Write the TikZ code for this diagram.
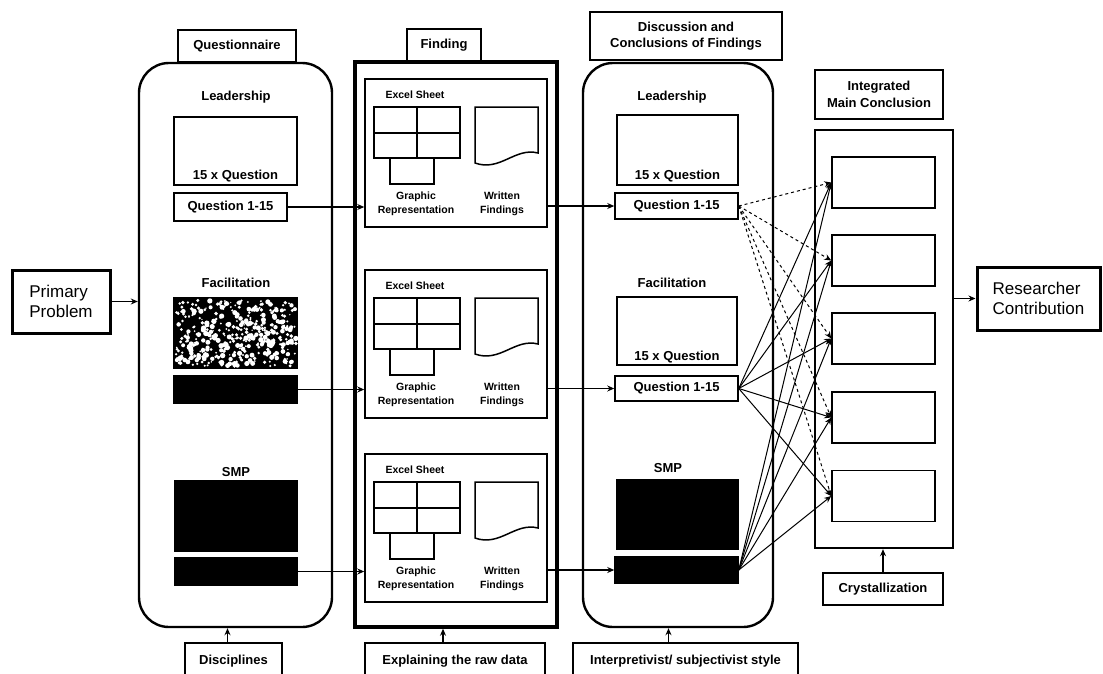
\documentclass[tikz,border=0pt]{standalone}
\usepackage{fontspec}
\setmainfont{Liberation Sans}
\usetikzlibrary{arrows.meta,positioning}

\begin{document}
\begin{tikzpicture}[x=1pt,y=-1pt,
  every node/.style={font=\bfseries\fontsize{13}{16.5}\selectfont},
  col/.style={draw,line width=2.4pt,rounded corners=30pt,inner sep=0pt},
  tag/.style={draw,line width=1.1pt,inner sep=0pt,align=center},
  qbox/.style={draw,line width=1.5pt,inner sep=0pt},
  blk/.style={draw,fill=black,line width=1.5pt,inner sep=0pt},
  head/.style={inner sep=0pt},
  endbox/.style={draw,line width=3pt,align=left,inner sep=0pt,
    font=\fontsize{17}{20}\selectfont},
  smalltxt/.style={font=\bfseries\fontsize{10.5}{14}\selectfont,align=center,inner sep=0pt},
  qlabel/.style={label={[anchor=south,inner sep=3pt]south:15 x Question}},
  link/.style={->,line width=1.1pt},
  >={Stealth[length=7pt,width=6pt]}]
\useasboundingbox (0,0) rectangle (1103,673);

% outer boxes
\node[endbox,minimum width=98pt,minimum height=63pt] (primary) at (61,301.5) {Primary\\Problem};
\node[endbox,minimum width=123pt,minimum height=63pt] (contrib) at (1038.5,298.5) {Researcher\\Contribution};

% the four columns
\node[col,minimum width=193pt,minimum height=564pt] (quest) at (235.5,345) {};
\node[draw,line width=3.5pt,minimum width=202pt,minimum height=565pt,inner sep=0pt] (find) at (456,344.5) {};
\node[col,minimum width=190pt,minimum height=564pt] (discuss) at (678,345) {};
\node[draw,line width=2.4pt,minimum width=138pt,minimum height=418pt,inner sep=0pt] (integ) at (884,339) {};

% titles on top
\node[tag,minimum width=118pt,minimum height=32pt] (tQuest) at (237,46) {Questionnaire};
\node[tag,minimum width=74pt,minimum height=32pt] (tFind) at (444,45) {Finding};
\node[tag,minimum width=192pt,minimum height=48pt] (tDisc) at (686,36) {Discussion and\\Conclusions of Findings};
\node[tag,minimum width=128pt,minimum height=49pt] (tInteg) at (879,94.5) {Integrated\\Main Conclusion};

% questionnaire
\node[head] (qLhead) at (236,97) {Leadership};
\node[qbox,qlabel,minimum width=123pt,minimum height=68pt] (qLbox) at (235.5,151) {};
\node[qbox,minimum width=113pt,minimum height=28pt] (qLq) at (230.5,207) {Question 1-15};
\node[head] (qFhead) at (236,283) {Facilitation};
\node[blk,minimum width=123pt,minimum height=70pt] (qFbox) at (235.5,333) {};
\begin{scope}
  \clip (qFbox.north west) rectangle (qFbox.south east);
  \pgfmathsetseed{7}
  \foreach \k in {1,...,420}
    \fill[white] ({176+120*rnd},{300+66*rnd}) circle ({0.7+2*rnd});
\end{scope}
\node[blk,minimum width=123pt,minimum height=27pt] (qFq) at (235.5,389.5) {};
\node[head] (qShead) at (236,472) {SMP};
\node[blk,minimum width=122pt,minimum height=70pt] (qSbox) at (236,516) {};
\node[blk,minimum width=122pt,minimum height=27pt] (qSq) at (236,571.5) {};

% finding: three excel sheets
\foreach \t/\n in {79/1,270/2,454/3}{
  \node[qbox,minimum width=182pt,minimum height=148pt] (sheet\n) at (456,\t+74) {};
  \node[smalltxt] (excel\n) at (415,\t+16) {Excel Sheet};
  \draw[line width=1.5pt] (374,\t+28) rectangle (460,\t+79)
    (417,\t+28) -- (417,\t+79) (374,\t+54) -- (460,\t+54)
    (390,\t+79) rectangle (434,\t+105);
  \draw[line width=1.5pt] (475,\t+28) -- (538,\t+28) -- (538,\t+74)
    .. controls (515,\t+68) and (500,\t+93) .. (475,\t+84) -- cycle;
  \node[smalltxt] (graph\n) at (416,\t+125) {Graphic\\Representation};
  \node[smalltxt] (written\n) at (502,\t+125) {Written\\Findings};
}

% discussion
\node[head] (dLhead) at (672,97) {Leadership};
\node[qbox,qlabel,minimum width=121pt,minimum height=70pt] (dLbox) at (677.5,150) {};
\node[qbox,minimum width=123pt,minimum height=26pt] (dLq) at (676.5,206) {Question 1-15};
\node[head] (dFhead) at (672,283) {Facilitation};
\node[qbox,qlabel,minimum width=120pt,minimum height=68pt] (dFbox) at (677,331) {};
\node[qbox,minimum width=123pt,minimum height=25pt] (dFq) at (676.5,388.5) {Question 1-15};
\node[head] (dShead) at (668,468) {SMP};
\node[blk,minimum width=121pt,minimum height=69pt] (dSbox) at (677.5,514.5) {};
\node[blk,minimum width=123pt,minimum height=26pt] (dSq) at (676.5,570) {};

% integrated conclusions
\foreach \j/\y in {1/182.5,2/260.5,3/338.5,4/417.5,5/496}
  \node[qbox,minimum width=103pt,minimum height=51pt] (ic\j) at (883.5,\y) {};

% bottom tags
\node[tag,minimum width=120pt,minimum height=32pt] (crystal) at (883,589) {Crystallization};
\node[tag,minimum width=97pt,minimum height=36pt] (discip) at (233.5,661) {Disciplines};
\node[tag,minimum width=180pt,minimum height=36pt] (explain) at (455,661) {Explaining the raw data};
\node[tag,minimum width=225pt,minimum height=36pt] (interp) at (685.5,661) {Interpretivist/ subjectivist style};

% connectors
\draw[link] (primary.east) -- (primary.east -| quest.west);
\draw[link] (integ.east |- contrib.west) -- (contrib.west);
\draw[link] (qLq.east) -- (qLq.east -| sheet1.west);
\draw[link] (qFq.east) -- (qFq.east -| sheet2.west);
\draw[link] (qSq.east) -- (qSq.east -| sheet3.west);
\draw[link] (dLq.west -| sheet1.east) -- (dLq.west);
\draw[link] (dFq.west -| sheet2.east) -- (dFq.west);
\draw[link] (dSq.west -| sheet3.east) -- (dSq.west);
\foreach \j in {1,...,5}{
  \draw[link,dashed,line width=1pt] (dLq.east) -- (ic\j.west);
  \draw[link,line width=1pt] (dFq.east) -- (ic\j.west);
  \draw[link,line width=1pt] (dSq.east) -- (ic\j.west);
}
\draw[link] (crystal.north) -- (crystal.north |- integ.south);
\draw[link] ([xshift=-6pt]discip.north) -- ([xshift=-6pt]discip.north |- quest.south);
\draw[link] ([xshift=-12pt]explain.north) -- ([xshift=-12pt]explain.north |- find.south);
\draw[link] ([xshift=-17pt]interp.north) -- ([xshift=-17pt]interp.north |- discuss.south);
\end{tikzpicture}
\end{document}
